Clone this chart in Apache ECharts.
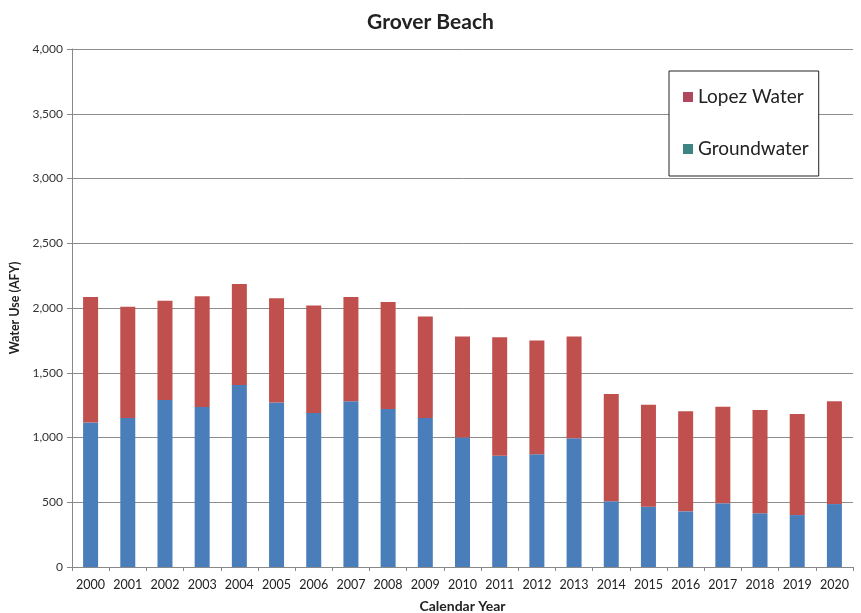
<!DOCTYPE html>
<html>
<head>
<meta charset="utf-8">
<script src="https://cdn.jsdelivr.net/npm/echarts@6/dist/echarts.min.js"></script>
<style>html,body{margin:0;padding:0;background:#fff}#c{width:861px;height:613px}</style>
</head>
<body>
<div id="c"></div>
<script>
var years = ['2000','2001','2002','2003','2004','2005','2006','2007','2008','2009','2010','2011','2012','2013','2014','2015','2016','2017','2018','2019','2020'];
var groundwater = [1115,1150,1290,1235,1405,1270,1190,1280,1220,1150,1000,860,870,995,507,466,430,492,415,401,486];
var lopezWater = [970,860,766,855,780,805,830,805,826,785,780,915,880,785,829,787,772,746,797,780,794];
var yTicks = [0,500,1000,1500,2000,2500,3000,3500,4000];

var font = 'Lato, "Open Sans", sans-serif';
var chart = echarts.init(document.getElementById('c'));
chart.setOption({
  animation: false,
  backgroundColor: '#fff',
  title: {
    text: 'Grover Beach',
    left: 'center',
    top: 7,
    textStyle: {fontFamily: font, fontSize: 21, fontWeight: 'bold', color: '#222'}
  },
  legend: {
    orient: 'vertical',
    left: 669,
    top: 71,
    padding: [16, 10, 17, 14],
    itemGap: 32,
    itemWidth: 10,
    itemHeight: 10,
    borderColor: '#222',
    borderWidth: 1,
    backgroundColor: '#fff',
    icon: 'rect',
    textStyle: {fontFamily: font, fontSize: 19, color: '#222', lineHeight: 20},
    data: [
      {name: 'Lopez Water', itemStyle: {color: '#b0475e'}},
      {name: 'Groundwater', itemStyle: {color: '#3f8484'}}
    ]
  },
  grid: {left: 72, right: 8, top: 49, bottom: 46, outerBoundsMode: 'none', containLabel: false},
  xAxis: {
    type: 'category',
    data: years,
    name: 'Calendar Year',
    nameLocation: 'middle',
    nameGap: 32,
    nameTextStyle: {fontFamily: font, fontSize: 14, fontWeight: 'bold', color: '#222'},
    axisLine: {lineStyle: {color: '#888'}},
    axisTick: {show: true, length: 4, lineStyle: {color: '#888'}},
    axisLabel: {interval: 0, hideOverlap: false, fontFamily: font, fontSize: 12.5, color: '#222', margin: 11}
  },
  yAxis: {
    type: 'value',
    min: 0,
    max: 4000,
    interval: 500,
    name: 'Water Use (AFY)',
    nameLocation: 'middle',
    nameGap: 48,
    nameTextStyle: {fontFamily: font, fontSize: 12.5, fontWeight: 'bold', color: '#222'},
    axisLine: {show: true, lineStyle: {color: '#888'}},
    axisTick: {show: true, length: 5, lineStyle: {color: '#888'}},
    axisLabel: {
      fontFamily: font, fontSize: 12, color: '#333', margin: 9,
      formatter: function (v) { return v.toLocaleString('en-US'); }
    },
    splitLine: {lineStyle: {color: '#8c8c8c'}}
  },
  series: [
    {name: 'Groundwater', type: 'bar', stack: 'w', barWidth: 15, data: groundwater, itemStyle: {color: '#4a7ebb'}},
    {name: 'Lopez Water', type: 'bar', stack: 'w', barWidth: 15, data: lopezWater, itemStyle: {color: '#c0504d'}}
  ]
});
</script>
</body>
</html>
